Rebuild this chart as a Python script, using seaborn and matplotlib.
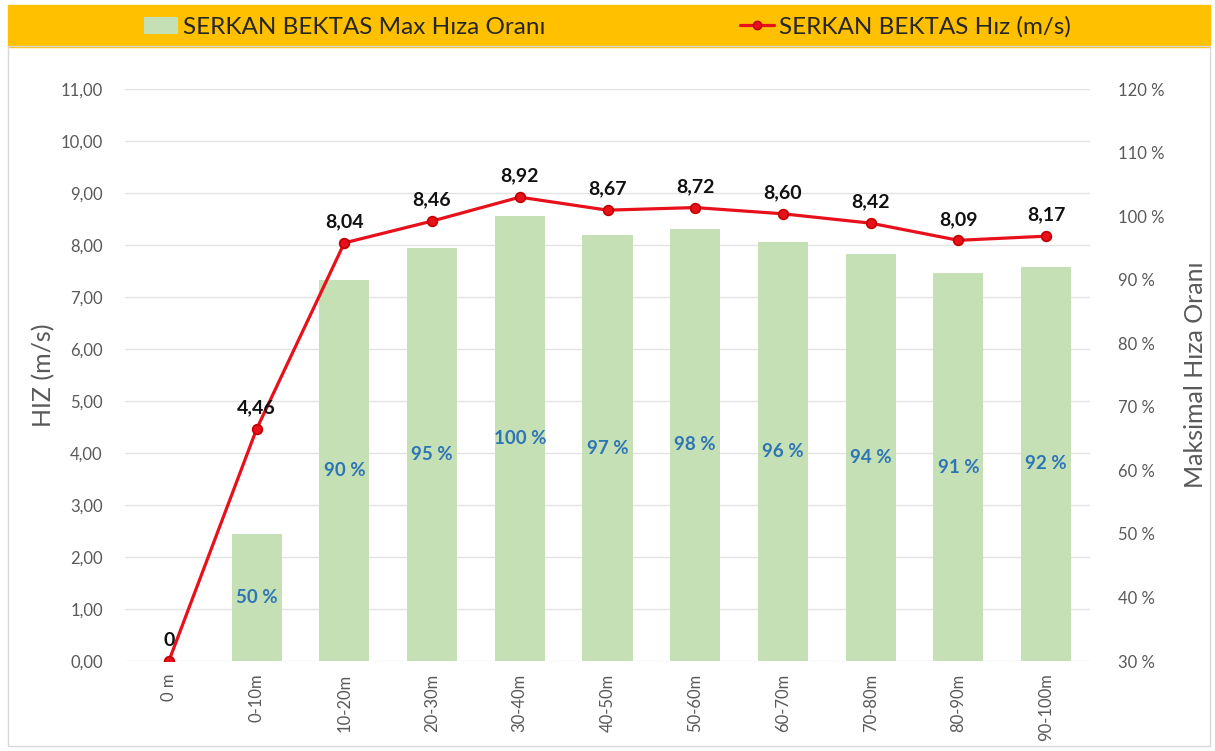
import numpy as np
import matplotlib.pyplot as plt
import seaborn as sns
from matplotlib.lines import Line2D
from matplotlib.patches import Patch, Rectangle

# -------------------------------
# data
# -------------------------------
categories = ["0 m", "0-10m", "10-20m", "20-30m", "30-40m", "40-50m",
              "50-60m", "60-70m", "70-80m", "80-90m", "90-100m"]
speed = [0, 4.46, 8.04, 8.46, 8.92, 8.67, 8.72, 8.60, 8.42, 8.09, 8.17]
ratio = [np.nan, 50, 90, 95, 100, 97, 98, 96, 94, 91, 92]

speed_ticks = list(range(0, 12))
ratio_ticks = list(range(30, 130, 10))

GREEN = "#C5E0B4"
RED = "#E8101A"
BLUE = "#2E75B6"
GRAY = "#595959"
ORANGE = "#FFC000"

sns.set_theme(style="white")
plt.rcParams['font.family'] = ['Lato', 'DejaVu Sans']

fig = plt.figure(figsize=(12.15, 7.51), dpi=100)
W, H = 1215, 751

# outer frame + top band
fig.patches.append(Rectangle((8 / W, 1 - 746 / H), 1202 / W, 700 / H,
                             transform=fig.transFigure, fill=False,
                             edgecolor="#D9D9D9", linewidth=1))
fig.patches.append(Rectangle((8 / W, 1 - 47 / H), 1202 / W, 42 / H,
                             transform=fig.transFigure, color=ORANGE, zorder=0))

# bars axis (behind, right scale)
axb = fig.add_axes([125 / W, 1 - 661 / H, 965 / W, 572 / H])
axl = axb.twinx()
axb.set_zorder(1)
axl.set_zorder(2)
axl.patch.set_visible(False)

sns.barplot(x=categories, y=ratio, ax=axb, color=GREEN, saturation=1,
            width=0.57, edgecolor="none")
axb.set_ylim(30, 120)
axb.set_xlim(-0.5, len(categories) - 0.5)

# gridlines follow the left (speed) ticks
for v in speed_ticks:
    axb.axhline(30 + v * 90 / 11, color="#E3E3E3", linewidth=1, zorder=0)

for i, r in enumerate(ratio):
    if np.isnan(r):
        continue
    axb.text(i, (30 + r) / 2, f"{r:.0f} %", ha="center", va="center",
             color=BLUE, fontsize=13.5, fontweight="bold")

# speed line
xpos = np.arange(len(categories))
sns.lineplot(x=xpos, y=speed, ax=axl, color=RED, linewidth=2.3, marker="o",
             markersize=7, markeredgecolor="#C00000", markeredgewidth=1.2)
axl.set_ylim(0, 11)
for i, s in enumerate(speed):
    lab = "0" if s == 0 else f"{s:.2f}".replace(".", ",")
    axl.annotate(lab, (i, s), xytext=(0, 9), textcoords="offset points",
                 ha="center", va="bottom", fontsize=14, fontweight="bold",
                 color="#111111")

# axes cosmetics
axl.yaxis.tick_left()
axl.yaxis.set_label_position("left")
axl.set_yticks(speed_ticks)
axl.set_yticklabels([f"{v:.2f}".replace(".", ",") for v in speed_ticks])
axl.set_ylabel("HIZ (m/s)", fontsize=18, color=GRAY, labelpad=4)

axb.yaxis.tick_right()
axb.yaxis.set_label_position("right")
axb.set_yticks(ratio_ticks)
axb.set_yticklabels([f"{v} %" for v in ratio_ticks])
axb.set_ylabel("Maksimal Hıza Oranı", fontsize=18, color=GRAY, labelpad=14)

axb.set_xticks(xpos)
axb.set_xticklabels(categories, rotation=90)
for ax in (axb, axl):
    for sp in ax.spines.values():
        sp.set_visible(False)
    ax.tick_params(axis="both", length=0, labelsize=12, labelcolor=GRAY, pad=16)
axb.tick_params(axis="x", pad=9)
axb.tick_params(axis="y", pad=20)
axl.grid(False)
axb.grid(False)

# legend in the band
handles = [
    Patch(facecolor=GREEN, edgecolor="none", label="SERKAN BEKTAS Max Hıza Oranı"),
    Line2D([0], [0], color=RED, linewidth=2.3, marker="o", markersize=6,
           markeredgecolor="#C00000", label="SERKAN BEKTAS Hız (m/s)"),
]
fig.legend(handles=handles, loc="center", bbox_to_anchor=(0.5, 1 - 27 / H),
           ncol=2, frameon=False, fontsize=17.5, columnspacing=8,
           handlelength=1.4, handletextpad=0.2, labelcolor="#262626")

fig.savefig("out.png", dpi=100)
